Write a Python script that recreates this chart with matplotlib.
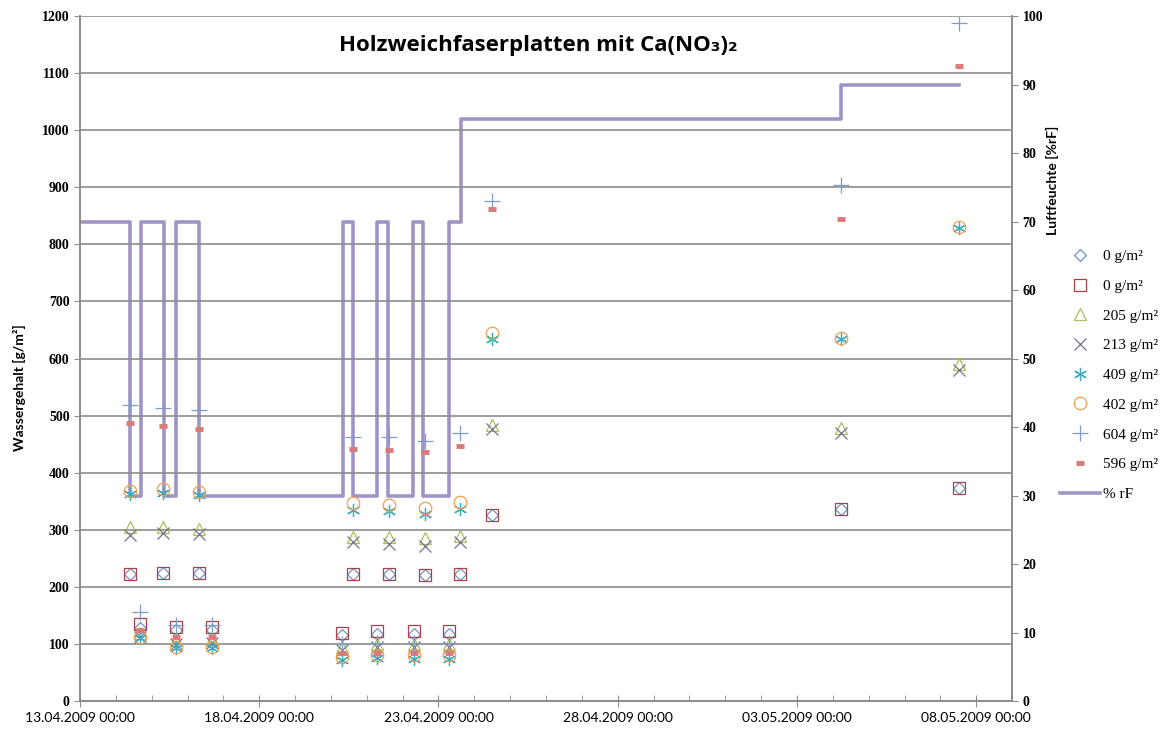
import numpy as np
import pandas as pd
import matplotlib
matplotlib.use("Agg")
import matplotlib.pyplot as plt
import matplotlib.dates as mdates
from matplotlib.lines import Line2D

start = pd.Timestamp("2009-04-13 00:00")

# measurement times (days after 13.04.2009 00:00)
t_days = [1.39, 1.67, 2.31, 2.67, 3.33, 3.67, 7.30, 7.61, 8.28, 8.62,
          9.31, 9.61, 10.28, 10.61, 11.49, 21.22, 24.53]

w_0a = [223, 128, 225, 125, 225, 125, 115, 223, 117, 222, 118, 221, 118, 222, 326, 336, 374]
w_0b = [223, 135, 225, 130, 225, 130, 120, 223, 123, 222, 123, 221, 123, 222, 326, 336, 374]
w_205 = [305, 120, 305, 107, 302, 108, 95, 288, 100, 287, 100, 285, 100, 289, 483, 478, 590]
w_213 = [290, 112, 295, 100, 293, 102, 90, 278, 95, 275, 95, 272, 95, 278, 476, 469, 580]
w_409 = [362, 110, 364, 93, 361, 93, 72, 335, 75, 333, 73, 328, 73, 336, 634, 634, 828]
w_402 = [368, 112, 371, 95, 366, 95, 78, 347, 80, 343, 80, 339, 80, 349, 644, 636, 830]
w_604 = [518, 156, 513, 133, 510, 133, 100, 463, 102, 463, 102, 456, 102, 469, 876, 904, 1187]
w_596 = [487, 125, 481, 112, 476, 112, 85, 441, 85, 440, 85, 436, 85, 447, 862, 844, 1113]

# humidity steps (days, %rF)
rf_days = [0.0, 1.40, 1.69, 2.33, 2.67, 3.33, 7.33, 7.61, 8.28, 8.58,
           9.28, 9.58, 10.28, 10.64, 21.22, 24.53]
rf_vals = [70, 30, 70, 30, 70, 30, 70, 30, 70, 30, 70, 30, 70, 85, 90, 90]

labels = ["0 g/m²", "0 g/m²", "205 g/m²", "213 g/m²", "409 g/m²",
          "402 g/m²", "604 g/m²", "596 g/m²"]

t = [start + pd.Timedelta(days=d) for d in t_days]
t_rf = [start + pd.Timedelta(days=d) for d in rf_days]

fig = plt.figure(figsize=(11.66, 7.38), dpi=100)
ax = fig.add_axes([0.0686, 0.0501, 0.7994, 0.9282])
ax2 = ax.twinx()

grid_c = "#8c8c8c"
series = [
    (w_0a, dict(marker="D", ms=6, mec="#6f94c8", mfc="none", mew=0.9)),
    (w_0b, dict(marker="s", ms=8.5, mec="#a8424a", mfc="none", mew=0.9)),
    (w_205, dict(marker="^", ms=9, mec="#a4bf5e", mfc="none", mew=0.9)),
    (w_213, dict(marker="x", ms=8, mec="#77728a", mfc="none", mew=0.9)),
    (w_409, dict(marker=(6, 2, 0), ms=9.5, mec="#3fa9c0", mfc="none", mew=0.9)),
    (w_402, dict(marker="o", ms=9, mec="#f0a050", mfc="none", mew=0.9)),
    (w_604, dict(marker="+", ms=11, mec="#7f9cc6", mfc="none", mew=0.9)),
    (w_596, dict(marker="_", ms=6, mec="#d87a78", mfc="none", mew=3.5)),
]

handles = []
for vals, st in series:
    ax.plot(t, vals, ls="none", zorder=3, **st)
    handles.append(Line2D([], [], ls="none", **st))

ax2.step(t_rf, rf_vals, where="post", color="#a093c6", lw=2.6, zorder=2)
handles.append(Line2D([], [], color="#a093c6", lw=2.6))
labels_all = labels + ["% rF"]

ax.set_zorder(ax2.get_zorder() + 1)
ax.patch.set_visible(False)

ax.set_ylim(0, 1200)
ax.set_yticks(np.arange(0, 1201, 100))
ax2.set_ylim(0, 100)
ax2.set_yticks(np.arange(0, 101, 10))
ax.set_xlim(start, start + pd.Timedelta(days=26))
ax.set_xticks([start + pd.Timedelta(days=5 * i) for i in range(6)])
ax.set_xticks([start + pd.Timedelta(days=i) for i in range(27)], minor=True)
ax.xaxis.set_major_formatter(mdates.DateFormatter("%d.%m.%Y %H:%M"))

ax.grid(axis="y", color=grid_c, lw=1.2)
for a in (ax, ax2):
    for s in a.spines.values():
        s.set_color(grid_c)
        s.set_linewidth(1.2)
ax.spines["top"].set_visible(False)
ax2.spines["top"].set_visible(False)

ax.tick_params(axis="x", which="major", direction="inout", length=8, color=grid_c, pad=4)
ax.tick_params(axis="x", which="minor", direction="in", length=4, color=grid_c)
ax.tick_params(axis="y", direction="out", length=4, color=grid_c)
ax2.tick_params(axis="y", direction="out", length=4, color=grid_c)

for lab in ax.get_yticklabels() + ax2.get_yticklabels():
    lab.set_fontfamily("Liberation Serif")
    lab.set_fontweight("bold")
    lab.set_fontsize(10)
for lab in ax.get_xticklabels():
    lab.set_fontfamily("Lato")
    lab.set_fontsize(10)

fig.text(0.017, 0.475, "Wassergehalt [g/m²]", rotation=90, ha="center", va="center",
         fontsize=10, fontweight="bold", family="Lato")
fig.text(0.903, 0.755, "Luftfeuchte [%rF]", rotation=90, ha="center", va="center",
         fontsize=10, fontweight="bold", family="Lato")
fig.text(0.462, 0.938, "Holzweichfaserplatten mit Ca(NO₃)₂", ha="center", va="center",
         fontsize=16, fontweight="bold", family=["Open Sans", "DejaVu Sans"])

fig.legend(handles, labels_all, loc="upper left", bbox_to_anchor=(0.909, 0.662),
           frameon=False, borderpad=0, borderaxespad=0, handlelength=2.6,
           labelspacing=1.05, handletextpad=0.2,
           prop={"family": "Liberation Serif", "size": 11})

fig.savefig("out.png", dpi=100)
